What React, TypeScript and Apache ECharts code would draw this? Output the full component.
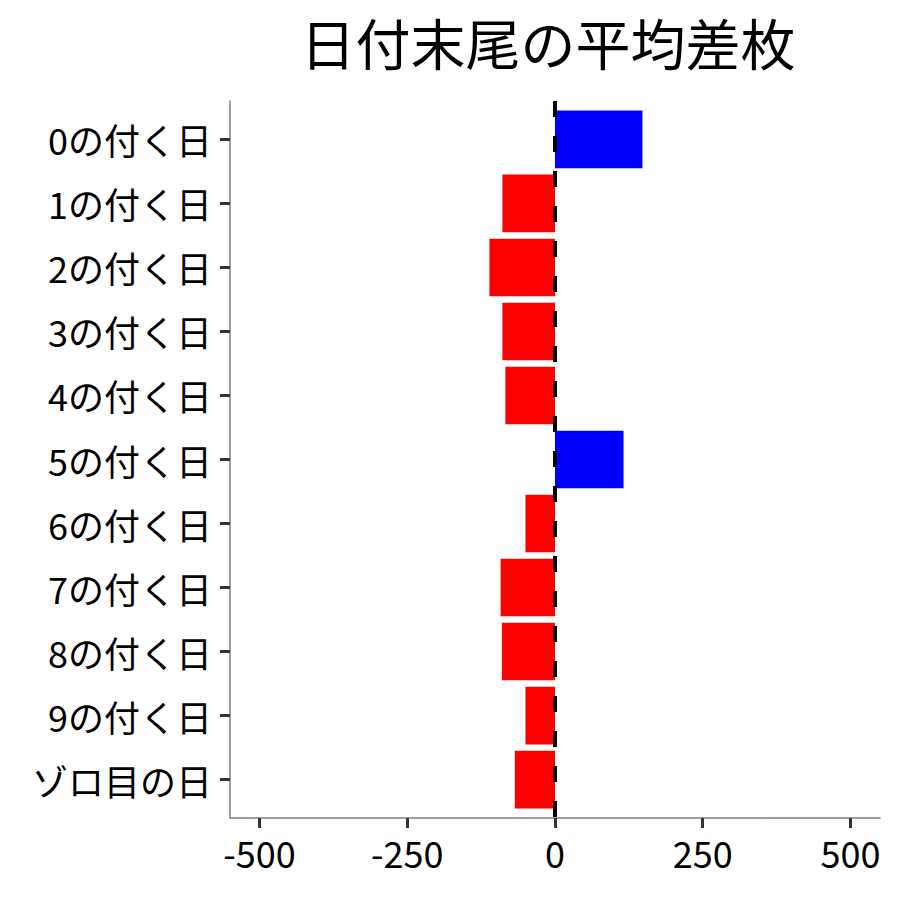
import { useEffect, useRef } from 'react'
import * as echarts from 'echarts'

const title = '日付末尾の平均差枚'

const categories = [
  '0の付く日',
  '1の付く日',
  '2の付く日',
  '3の付く日',
  '4の付く日',
  '5の付く日',
  '6の付く日',
  '7の付く日',
  '8の付く日',
  '9の付く日',
  'ゾロ目の日',
]

const diffValues = [148, -89, -111, -89, -84, 116, -50, -92, -90, -50, -68]

const xTicks = [-500, -250, 0, 250, 500]

const font = 'Noto Sans CJK JP'

export default function App() {
  const chartRef = useRef<HTMLDivElement>(null)

  useEffect(() => {
    if (!chartRef.current) return
    const chart = echarts.init(chartRef.current, null, { renderer: 'svg' })

    const rows = diffValues.map((v, i) => [v, i])
    const catIndex = categories.map((_, i) => i)

    chart.setOption({
      animation: false,
      backgroundColor: '#ffffff',
      textStyle: { fontFamily: font },
      title: {
        text: title,
        left: 543,
        top: 8,
        textAlign: 'center',
        textStyle: { fontFamily: font, fontSize: 55, fontWeight: 'normal', color: '#000' },
      },
      grid: { left: 230, right: 20, top: 101, bottom: 82, containLabel: false },
      xAxis: {
        type: 'value',
        min: -550,
        max: 550,
        splitLine: { show: false },
        axisLine: { show: true, onZero: false, lineStyle: { color: '#7f7f7f', width: 1.5 } },
        axisTick: {
          show: true,
          customValues: xTicks,
          length: 10,
          lineStyle: { color: '#333333', width: 3 },
        },
        axisLabel: {
          customValues: xTicks,
          fontSize: 36,
          color: '#000',
          margin: 16,
          fontFamily: font,
        },
      },
      yAxis: {
        type: 'value',
        min: -0.6,
        max: 10.6,
        inverse: true,
        splitLine: { show: false },
        axisLine: { show: true, onZero: false, lineStyle: { color: '#7f7f7f', width: 1.5 } },
        axisTick: {
          show: true,
          customValues: catIndex,
          length: 10,
          lineStyle: { color: '#333333', width: 3 },
        },
        axisLabel: {
          customValues: catIndex,
          formatter: (v: number) => categories[Math.round(v)] ?? '',
          fontSize: 36,
          color: '#000',
          margin: 18,
          fontFamily: font,
        },
      },
      series: [
        {
          type: 'custom',
          encode: { x: 0, y: 1 },
          data: rows,
          renderItem: (_params: any, api: any) => {
            const v = api.value(0)
            const idx = api.value(1)
            const p0 = api.coord([0, idx])
            const p1 = api.coord([v, idx])
            const h = api.size([0, 0.9])[1]
            return {
              type: 'rect',
              shape: {
                x: Math.min(p0[0], p1[0]),
                y: p0[1] - h / 2,
                width: Math.abs(p1[0] - p0[0]),
                height: h,
              },
              style: { fill: v >= 0 ? '#0000ff' : '#ff0000' },
            }
          },
          markLine: {
            silent: true,
            symbol: ['none', 'none'],
            label: { show: false },
            lineStyle: { color: '#000', width: 4, type: [16, 19] },
            data: [{ xAxis: 0 }],
          },
        },
      ],
    })

    return () => {
      chart.dispose()
    }
  }, [])

  return <div ref={chartRef} style={{ position: 'fixed', left: 0, top: 0, width: 900, height: 900 }} />
}
